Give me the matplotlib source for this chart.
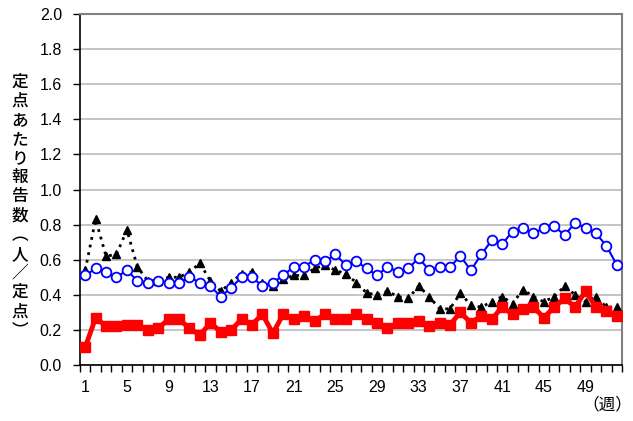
import numpy as np
import matplotlib.pyplot as plt

plt.rcParams['font.family'] = ['Noto Sans CJK JP', 'DejaVu Sans']

weeks = list(range(1, 53))

# 定点あたり報告数
blue = [0.51, 0.55, 0.53, 0.50, 0.54, 0.48, 0.47, 0.48, 0.47, 0.47,
        0.50, 0.47, 0.45, 0.39, 0.44, 0.50, 0.50, 0.45, 0.47, 0.51,
        0.56, 0.56, 0.60, 0.59, 0.63, 0.57, 0.59, 0.55, 0.51, 0.56,
        0.53, 0.55, 0.61, 0.54, 0.56, 0.56, 0.62, 0.54, 0.63, 0.71,
        0.69, 0.76, 0.78, 0.75, 0.78, 0.79, 0.74, 0.81, 0.78, 0.75,
        0.68, 0.57]
black = [0.54, 0.83, 0.62, 0.63, 0.77, 0.56, 0.48, 0.48, 0.50, 0.50,
         0.53, 0.58, 0.48, 0.42, 0.47, 0.52, 0.53, 0.47, 0.45, 0.49,
         0.51, 0.51, 0.55, 0.57, 0.54, 0.52, 0.47, 0.41, 0.40, 0.42,
         0.39, 0.38, 0.45, 0.39, 0.32, 0.32, 0.41, 0.34, 0.33, 0.36,
         0.39, 0.35, 0.43, 0.39, 0.36, 0.39, 0.45, 0.40, 0.36, 0.39,
         0.33, 0.33]
red = [0.10, 0.27, 0.22, 0.22, 0.23, 0.23, 0.20, 0.21, 0.26, 0.26,
       0.21, 0.17, 0.24, 0.19, 0.20, 0.26, 0.23, 0.29, 0.18, 0.29,
       0.26, 0.28, 0.25, 0.29, 0.26, 0.26, 0.29, 0.26, 0.24, 0.21,
       0.24, 0.24, 0.25, 0.22, 0.24, 0.23, 0.30, 0.24, 0.28, 0.26,
       0.33, 0.29, 0.32, 0.33, 0.27, 0.33, 0.38, 0.33, 0.42, 0.33,
       0.31, 0.28]

xlabels = [1, 5, 9, 13, 17, 21, 25, 29, 33, 37, 41, 45, 49]
ylabel = '定点あたり報告数︵人／定点︶'

fig = plt.figure(figsize=(6.33, 4.21), dpi=100)
ax = fig.add_axes([80/633, 56/421, 542/633, 351/421])

ax.plot(weeks, black, color='black', linestyle=(0, (1, 1.8)), linewidth=2,
        marker='^', markersize=6, zorder=3)
ax.plot(weeks, blue, color='#0000ff', linewidth=1.5, marker='o', markersize=7,
        markerfacecolor='white', markeredgecolor='#0000ff', markeredgewidth=1.3, zorder=4)
ax.plot(weeks, red, color='#ff0000', linewidth=3.5, marker='s', markersize=7,
        zorder=5)

tick_font = {'family': ['Liberation Sans', 'DejaVu Sans'], 'size': 11.5}

ax.set_xlim(0.5, 52.5)
ax.set_ylim(0, 2.0)
ax.set_yticks(np.arange(0, 2.01, 0.2))
ax.set_yticklabels([f'{v:.1f}' for v in np.arange(0, 2.01, 0.2)], fontdict=tick_font)
ax.yaxis.grid(True, color='#c0c0c0', linewidth=1.3)
ax.set_axisbelow(True)

ax.set_xticks(xlabels)
ax.set_xticklabels([str(v) for v in xlabels], fontdict=tick_font)
ax.set_xticks(np.arange(0.5, 53, 1), minor=True)
ax.tick_params(axis='x', which='major', length=0, pad=11)
ax.tick_params(axis='x', which='minor', length=5, width=1, direction='out')
ax.tick_params(axis='y', length=5, width=1, direction='out', pad=8)

for s in ['left', 'bottom']:
    ax.spines[s].set_color('black')
    ax.spines[s].set_linewidth(1.2)
for s in ['top', 'right']:
    ax.spines[s].set_color('#808080')
    ax.spines[s].set_linewidth(1.5)

fig.text(20/633, 1 - 206/421, '\n'.join(ylabel), ha='center', va='center',
         fontsize=12, linespacing=1.08, fontweight='medium')
fig.text(632/633, 1 - 405/421, '（週）', ha='right', va='center', fontsize=12)

fig.savefig('out.png', dpi=100)
